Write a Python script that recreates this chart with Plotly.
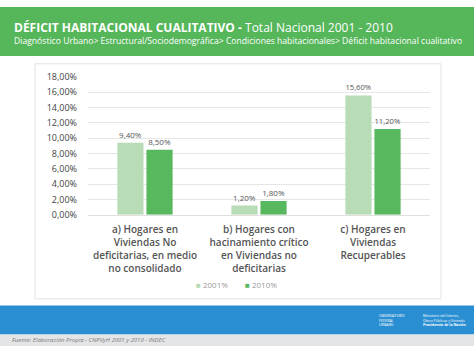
import plotly.graph_objects as go

W, H = 474, 352

categories = [
    "a) Hogares en<br>Viviendas No<br>deficitarias, en medio<br>no consolidado",
    "b) Hogares con<br>hacinamiento crítico<br>en Viviendas no<br>deficitarias",
    "c) Hogares en<br>Viviendas<br>Recuperables",
]
series_names = ["2001%", "2010%"]
values_2001 = [9.40, 1.20, 15.60]
values_2010 = [8.50, 1.80, 11.20]
y_ticks = [0, 2, 4, 6, 8, 10, 12, 14, 16, 18]
y_tick_labels = [f"{v:.2f}".replace(".", ",") + "%" for v in y_ticks]

title_bold = "DÉFICIT HABITACIONAL CUALITATIVO - "
title_rest = "Total Nacional 2001 - 2010"
subtitle = "Diagnóstico Urbano> Estructural/Sociodemográfica> Condiciones habitacionales> Déficit habitacional cualitativo"
footer = "Fuente: Elaboración Propia - CNPVyH 2001 y 2010 - INDEC"
logo_1 = "OBSERVATORIO<br>FEDERAL<br>URBANO"
logo_2 = "Ministerio del Interior,<br>Obras Públicas y Vivienda<br><b>Presidencia de la Nación</b>"

colors = ["#b7dcb6", "#58b85d"]
FONT = "Open Sans"


def px(x):
    return x / W


def py(y):
    return 1 - y / H


def fmt(v):
    return f"{v:.2f}".replace(".", ",") + "%"


fig = go.Figure()
for name, vals, col in zip(series_names, [values_2001, values_2010], colors):
    fig.add_trace(go.Bar(
        x=categories, y=vals, name=name, marker=dict(color=col, line=dict(width=0)),
        text=[fmt(v) for v in vals], textposition="outside",
        textfont=dict(size=8, color="#555555", family=FONT),
        cliponaxis=False, hoverinfo="skip", showlegend=False,
    ))

shapes = [
    dict(type="rect", xref="paper", yref="paper", x0=0, x1=1, y0=py(51), y1=1,
         fillcolor="#55b65a", line=dict(width=0), layer="below"),
    dict(type="rect", xref="paper", yref="paper", x0=px(35), x1=px(441), y0=py(303), y1=py(59),
         fillcolor="white", line=dict(color="#e2e2e2", width=1), layer="below"),
    dict(type="rect", xref="paper", yref="paper", x0=0, x1=1, y0=py(340), y1=py(310),
         fillcolor="#2a8fd2", line=dict(width=0), layer="below"),
    dict(type="rect", xref="paper", yref="paper", x0=0, x1=1, y0=0, y1=py(340),
         fillcolor="#e3e5e7", line=dict(width=0), layer="below"),
]

annotations = [
    dict(xref="paper", yref="paper", x=px(12), y=py(21), xanchor="left", yanchor="middle",
         text=f"<b>{title_bold}</b>{title_rest}", showarrow=False,
         font=dict(size=12, color="white", family=FONT)),
    dict(xref="paper", yref="paper", x=px(12), y=py(35), xanchor="left", yanchor="middle",
         text=subtitle, showarrow=False, font=dict(size=8.6, color="white", family=FONT)),
    dict(xref="paper", yref="paper", x=px(10), y=py(346), xanchor="left", yanchor="middle",
         text=f"<i>{footer}</i>", showarrow=False, font=dict(size=6, color="#7a7a7a", family=FONT)),
    dict(xref="paper", yref="paper", x=px(377), y=py(325), xanchor="left", yanchor="middle",
         text=logo_1, showarrow=False, align="left",
         font=dict(size=3.5, color="white", family=FONT)),
    dict(xref="paper", yref="paper", x=px(421), y=py(325), xanchor="left", yanchor="middle",
         text=logo_2, showarrow=False, align="left",
         font=dict(size=3.5, color="white", family=FONT)),
]

# legend: small square swatch + series name
legend_x = [194, 243]
for name, col, lx in zip(series_names, colors, legend_x):
    annotations.append(dict(
        xref="paper", yref="paper", x=px(lx), y=py(288), xanchor="left", yanchor="middle",
        text=f'<span style="color:{col}">■</span> {name}', showarrow=False,
        font=dict(size=8, color="#9a9a9a", family=FONT),
    ))

fig.update_layout(
    width=W, height=H, margin=dict(l=0, r=0, t=0, b=0),
    paper_bgcolor="white", plot_bgcolor="rgba(0,0,0,0)",
    barmode="group", bargap=0.49, bargroupgap=0.1,
    separators=",.", showlegend=False,
    shapes=shapes, annotations=annotations,
    font=dict(family=FONT),
    xaxis=dict(domain=[px(88), px(430)], showgrid=False, showline=True, linecolor="#e0e0e0",
               linewidth=1, ticks="", tickfont=dict(size=10, color="#555555", family=FONT, weight=600),
               ticklabelstandoff=5, fixedrange=True),
    yaxis=dict(domain=[py(215.7), py(72.7)], range=[0, 18], tickvals=y_ticks, ticktext=y_tick_labels,
               showgrid=True, gridcolor="#e6e6e6", gridwidth=1, zeroline=False, showline=False,
               tickfont=dict(size=9, color="#444444", family=FONT), ticklabelstandoff=10,
               fixedrange=True),
)

fig.write_html("out.html")
